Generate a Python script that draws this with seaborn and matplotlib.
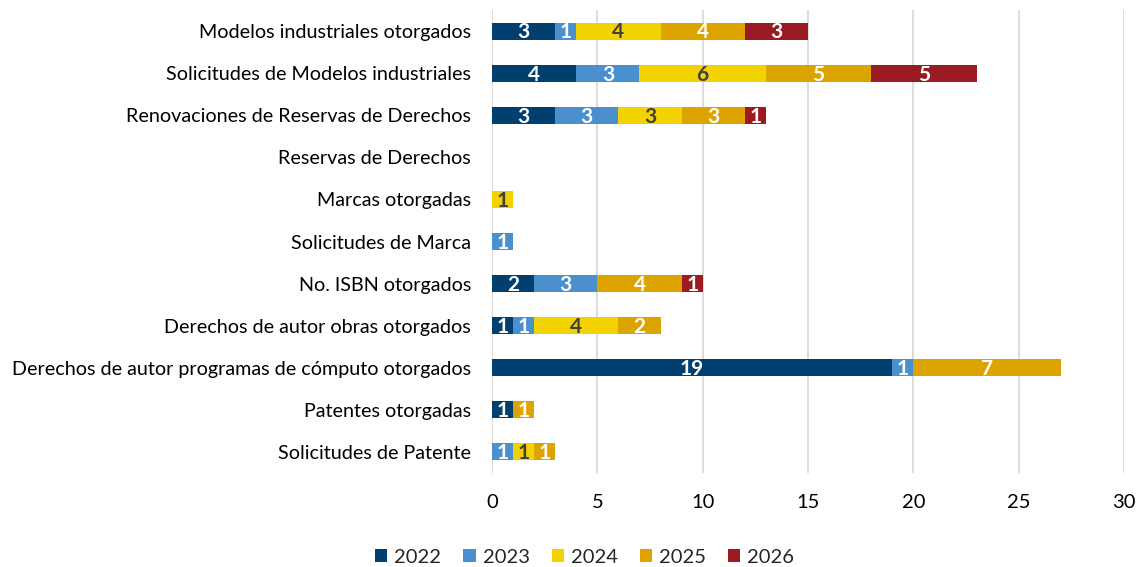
import numpy as np
import pandas as pd
import matplotlib
matplotlib.use("Agg")
import matplotlib.pyplot as plt
import seaborn as sns
from matplotlib.patches import Patch

categories = [
    "Modelos industriales otorgados",
    "Solicitudes de Modelos industriales",
    "Renovaciones de Reservas de Derechos",
    "Reservas de Derechos",
    "Marcas otorgadas",
    "Solicitudes de Marca",
    "No. ISBN otorgados",
    "Derechos de autor obras otorgados",
    "Derechos de autor programas de cómputo otorgados",
    "Patentes otorgadas",
    "Solicitudes de Patente",
]
years = ["2022", "2023", "2024", "2025", "2026"]
v2022 = [3, 4, 3, 0, 0, 0, 2, 1, 19, 1, 0]
v2023 = [1, 3, 3, 0, 0, 1, 3, 1, 1, 0, 1]
v2024 = [4, 6, 3, 0, 1, 0, 0, 4, 0, 0, 1]
v2025 = [4, 5, 3, 0, 0, 0, 4, 2, 7, 1, 1]
v2026 = [3, 5, 1, 0, 0, 0, 1, 0, 0, 0, 0]

colors = ["#003F6E", "#4A90CE", "#F2D200", "#DDA400", "#9B1B22"]
text_colors = ["white", "white", "#404040", "white", "white"]

sns.set_theme(style="white")
plt.rcParams["font.family"] = ["Lato", "DejaVu Sans"]

df = pd.DataFrame({"cat": categories, "2022": v2022, "2023": v2023,
                   "2024": v2024, "2025": v2025, "2026": v2026})
cum = df[years].cumsum(axis=1)

fig = plt.figure(figsize=(11.4, 5.67), dpi=100)
ax = fig.add_axes([0.4316, 0.166, 0.5544, 0.816])

# draw cumulative totals from the last year down so earlier years sit on top
for i in range(len(years) - 1, -1, -1):
    y = years[i]
    sns.barplot(x=cum[y], y=df["cat"], color=colors[i], orient="h",
                width=0.41, saturation=1, ax=ax, edgecolor="none")

for i, y in enumerate(years):
    for j, v in enumerate(df[y]):
        if v > 0:
            ax.text(cum[y][j] - v / 2, j + 0.03, str(v), ha="center", va="center",
                    fontsize=15, fontweight="bold", color=text_colors[i])

ax.set_xlim(0, 30)
ax.set_xticks(range(0, 31, 5))
ax.set_ylim(10.5, -0.5)
ax.grid(axis="x", color="#D9D9D9", linewidth=1.3)
ax.set_axisbelow(True)
for s in ax.spines.values():
    s.set_visible(False)
ax.axvline(0, color="#D9D9D9", linewidth=1.3, zorder=0)
ax.set_xlabel("")
ax.set_ylabel("")
ax.tick_params(axis="x", labelsize=14.5, length=0, pad=15, colors="black")
ax.tick_params(axis="y", labelsize=14.2, length=0, pad=15, colors="black")

handles = [Patch(facecolor=c, edgecolor="none", label=y) for c, y in zip(colors, years)]
fig.legend(handles=handles, loc="lower center", ncol=5, frameon=False,
           fontsize=14.5, bbox_to_anchor=(0.513, -0.03), handlelength=0.6,
           handleheight=0.6, columnspacing=1.1, handletextpad=0.35)

fig.savefig("out.png", dpi=100)
